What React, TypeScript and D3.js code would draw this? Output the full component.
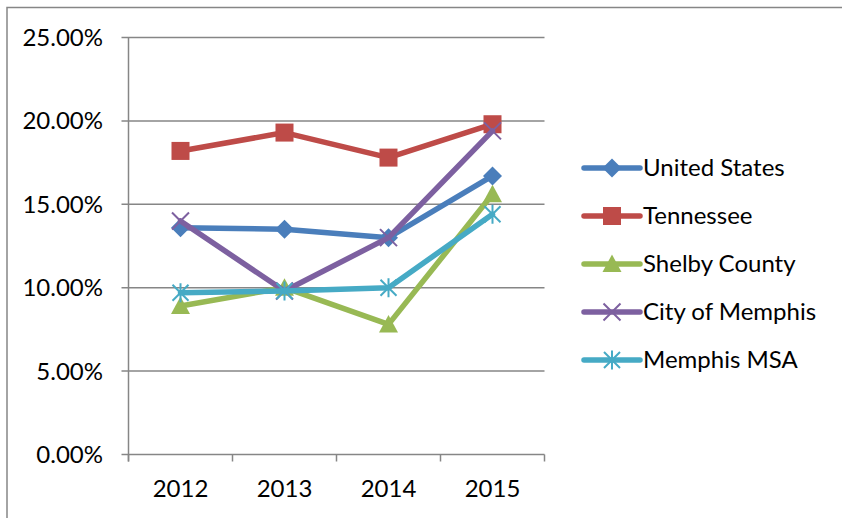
import React from "react";
import * as d3 from "d3";

const years = ["2012", "2013", "2014", "2015"];
const seriesNames = ["United States", "Tennessee", "Shelby County", "City of Memphis", "Memphis MSA"];
const unitedStates = [13.6, 13.5, 13.0, 16.7];
const tennessee = [18.2, 19.3, 17.8, 19.8];
const shelbyCounty = [8.9, 10.0, 7.8, 15.6];
const cityOfMemphis = [14.0, 9.8, 13.0, 19.4];
const memphisMSA = [9.7, 9.8, 10.0, 14.4];
const yTicks = [0, 5, 10, 15, 20, 25];

const colors = ["#4A7EBB", "#BE4B48", "#98B954", "#7D60A0", "#46AAC5"];
const markers = ["diamond", "square", "triangle", "x", "star"];
const allValues = [unitedStates, tennessee, shelbyCounty, cityOfMemphis, memphisMSA];

const FONT = "Lato, 'Open Sans', sans-serif";
const FS = 24;

function Marker({ type, x, y, color }: { type: string; x: number; y: number; color: string }) {
  if (type === "diamond") {
    const s = 9.5;
    return <path d={`M${x},${y - s}L${x + s},${y}L${x},${y + s}L${x - s},${y}Z`} fill={color} />;
  }
  if (type === "square") {
    const s = 9;
    return <rect x={x - s} y={y - s} width={2 * s} height={2 * s} fill={color} />;
  }
  if (type === "triangle") {
    const s = 9.5;
    return <path d={`M${x},${y - s}L${x + s},${y + s * 0.85}L${x - s},${y + s * 0.85}Z`} fill={color} />;
  }
  if (type === "x") {
    const s = 8.5;
    return (
      <path d={`M${x - s},${y - s}L${x + s},${y + s}M${x + s},${y - s}L${x - s},${y + s}`} stroke={color} strokeWidth={2} />
    );
  }
  const s = 8;
  return (
    <path
      d={`M${x - s},${y - s}L${x + s},${y + s}M${x + s},${y - s}L${x - s},${y + s}M${x},${y - s - 1.5}L${x},${y + s + 1.5}`}
      stroke={color}
      strokeWidth={2}
    />
  );
}

export default function App() {
  const width = 842;
  const height = 518;
  const left = 128.5;
  const right = 544.5;
  const top = 37.5;
  const bottom = 454.5;

  const x = d3.scaleBand<string>().domain(years).range([left, right]);
  const y = d3.scaleLinear().domain([0, 25]).range([bottom, top]);
  const cx = (yr: string) => (x(yr) as number) + x.bandwidth() / 2;

  const line = d3
    .line<number>()
    .x((_, i) => cx(years[i]))
    .y((d) => y(d));

  const gray = "#868686";
  const legendX0 = 584;
  const legendX1 = 640;
  const legendY0 = 168;
  const legendStep = 48;

  return (
    <svg width={width} height={height} style={{ position: "absolute", left: 0, top: 0 }}>
      <rect x={0} y={0} width={width} height={height} fill="#fff" />
      <path d={`M7,${height + 5}L7,7.5L${width + 5},7.5`} fill="none" stroke={gray} strokeWidth={1.5} />

      {yTicks.map((t) => (
        <g key={t}>
          <line x1={left - 7} x2={right} y1={y(t)} y2={y(t)} stroke={gray} strokeWidth={1.5} />
          <text x={103} y={y(t)} dy="0.35em" textAnchor="end" fontFamily={FONT} fontSize={FS} fill="#000">
            {t.toFixed(2) + "%"}
          </text>
        </g>
      ))}
      <line x1={left} x2={left} y1={top} y2={bottom + 7} stroke={gray} strokeWidth={1.5} />
      {[...years.map((yr) => x(yr) as number), right].map((v, i) => (
        <line key={i} x1={v} x2={v} y1={bottom} y2={bottom + 7} stroke={gray} strokeWidth={1.5} />
      ))}
      {years.map((yr) => (
        <text key={yr} x={cx(yr)} y={497} textAnchor="middle" fontFamily={FONT} fontSize={FS} fill="#000">
          {yr}
        </text>
      ))}

      {allValues.map((vals, si) => (
        <g key={si}>
          <path d={line(vals) || ""} fill="none" stroke={colors[si]} strokeWidth={5.5} strokeLinejoin="round" strokeLinecap="round" />
          {vals.map((v, i) => (
            <Marker key={i} type={markers[si]} x={cx(years[i])} y={y(v)} color={colors[si]} />
          ))}
        </g>
      ))}

      {seriesNames.map((name, si) => {
        const ly = legendY0 + si * legendStep;
        return (
          <g key={name}>
            <line x1={legendX0} x2={legendX1} y1={ly} y2={ly} stroke={colors[si]} strokeWidth={5.5} strokeLinecap="round" />
            <Marker type={markers[si]} x={(legendX0 + legendX1) / 2} y={ly} color={colors[si]} />
            <text x={643} y={ly} dy="0.35em" fontFamily={FONT} fontSize={FS} fill="#000">
              {name}
            </text>
          </g>
        );
      })}
    </svg>
  );
}
